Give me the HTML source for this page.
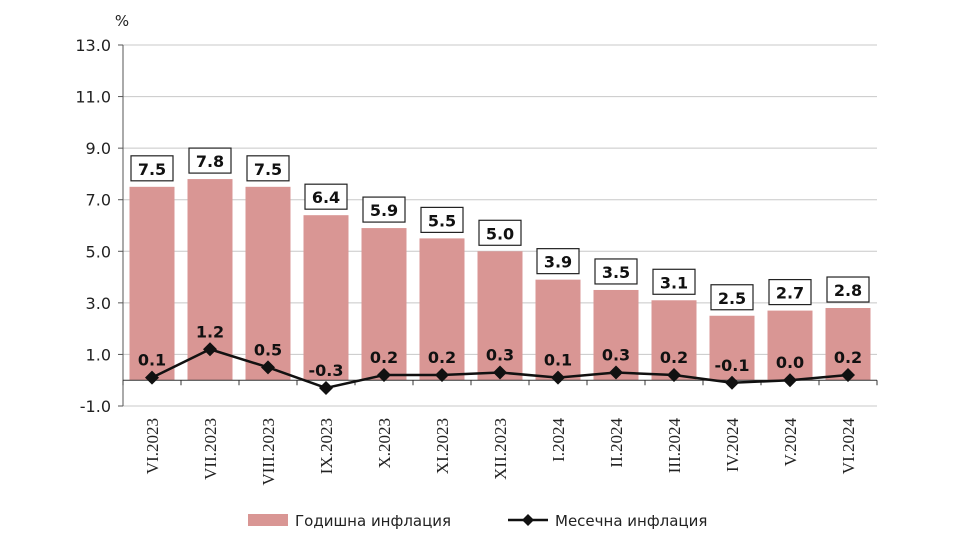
<!DOCTYPE html>
<html><head><meta charset="utf-8"><style>
body{margin:0;background:#fff;}
svg{display:block;font-family:"DejaVu Sans","Liberation Sans",sans-serif;}
</style></head><body>
<svg id="chart" width="958" height="539"></svg>
<script>
const categories=["VI.2023","VII.2023","VIII.2023","IX.2023","X.2023","XI.2023","XII.2023","I.2024","II.2024","III.2024","IV.2024","V.2024","VI.2024"];
const annualValues=[7.5,7.8,7.5,6.4,5.9,5.5,5.0,3.9,3.5,3.1,2.5,2.7,2.8];
const monthlyValues=[0.1,1.2,0.5,-0.3,0.2,0.2,0.3,0.1,0.3,0.2,-0.1,0.0,0.2];
const yTicks=[-1,1,3,5,7,9,11,13];
const NS="http://www.w3.org/2000/svg";
const svg=document.getElementById('chart');
const L=123,R=877,T=45,B=406,ymin=-1,ymax=13;
const y=v=>B-(v-ymin)/(ymax-ymin)*(B-T);
const cw=(R-L)/categories.length;
const x=i=>L+cw*(i+0.5);
function mk(tag,a,txt){const e=document.createElementNS(NS,tag);for(const k in a)e.setAttribute(k,a[k]);if(txt!==undefined)e.textContent=txt;svg.appendChild(e);return e;}
yTicks.forEach(t=>{
const g=mk('line',{x1:L,x2:R,y1:y(t),y2:y(t),stroke:'#c8c8c8','stroke-width':1});


const tl=mk('line',{x1:L-5,x2:L,y1:y(t),y2:y(t),stroke:'#555'});


const lb=mk('text',{x:L-12,y:y(t)+6,'text-anchor':'end','font-size':16,fill:'#222'},t.toFixed(1));


});
const pc=mk('text',{x:122,y:26,'text-anchor':'middle','font-size':15,fill:'#222'},'%');


annualValues.forEach((v,i)=>{
const b=mk('rect',{x:x(i)-22.5,y:y(v),width:45,height:y(0)-y(v),fill:'#d99694'});


const bx=mk('rect',{x:x(i)-21,y:y(v)-31,width:42,height:25,fill:'#fff',stroke:'#222','stroke-width':1.2});


const t=mk('text',{x:x(i),y:y(v)-12,'text-anchor':'middle','font-size':16,'font-weight':'bold',fill:'#111'},v.toFixed(1));


});
const ax=mk('line',{x1:L,x2:L,y1:T,y2:B,stroke:'#555'});


const zx=mk('line',{x1:L,x2:R,y1:y(0),y2:y(0),stroke:'#333'});


for(let i=0;i<=categories.length;i++){
const tk=mk('line',{x1:L+cw*i,x2:L+cw*i,y1:y(0),y2:y(0)+5,stroke:'#333'});


}
categories.forEach((c,i)=>{
const t=mk('text',{x:0,y:0,'text-anchor':'end','font-size':17,fill:'#222','font-family':'"Liberation Serif",serif',transform:`translate(${x(i)+6},${y(-1)+12}) rotate(-90)`},c);


});
const pts=monthlyValues.map((v,i)=>x(i)+','+y(v)).join(' ');
const pl=mk('polyline',{points:pts,fill:'none',stroke:'#111','stroke-width':2.5});


monthlyValues.forEach((v,i)=>{
const d=mk('polygon',{points:`${x(i)},${y(v)-7} ${x(i)+7},${y(v)} ${x(i)},${y(v)+7} ${x(i)-7},${y(v)}`,fill:'#111'});


const t=mk('text',{x:x(i),y:y(v)-12,'text-anchor':'middle','font-size':16,'font-weight':'bold',fill:'#111'},v.toFixed(1));


});
const l1=mk('rect',{x:248,y:514,width:40,height:12,fill:'#d99694'});


const l1t=mk('text',{x:295,y:526,'font-size':15,fill:'#222'},'Годишна инфлация');


const l2=mk('line',{x1:508,x2:548,y1:520,y2:520,stroke:'#111','stroke-width':2.5});


const l2d=mk('polygon',{points:'528,514 534,520 528,526 522,520',fill:'#111'});


const l2t=mk('text',{x:555,y:526,'font-size':15,fill:'#222'},'Месечна инфлация');


</script>
</body></html>
